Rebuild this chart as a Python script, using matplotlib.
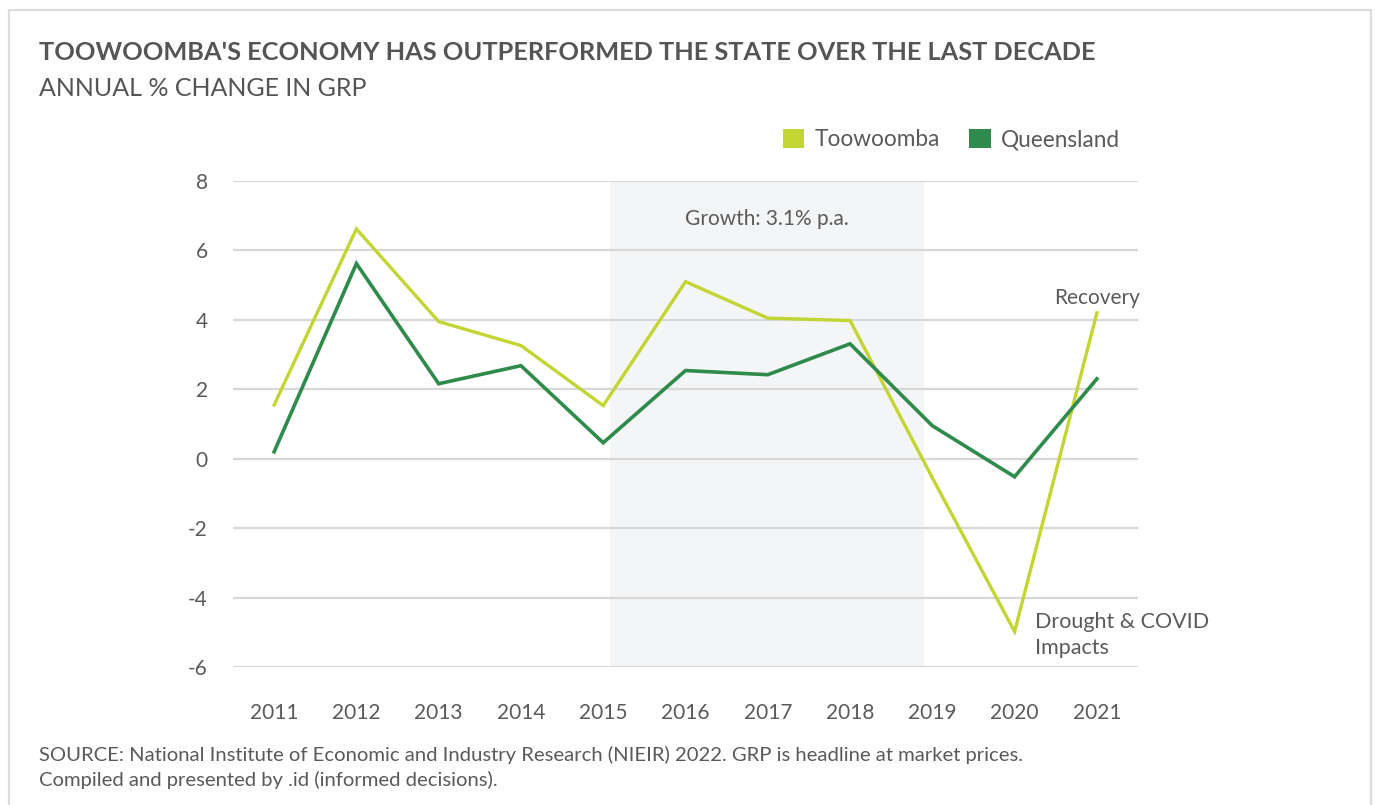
import matplotlib
matplotlib.use("Agg")
from matplotlib import pyplot as plt
from matplotlib.patches import Rectangle, Patch

plt.rcParams['font.family'] = ['Lato', 'DejaVu Sans']

years = [2011, 2012, 2013, 2014, 2015, 2016, 2017, 2018, 2019, 2020, 2021]
toowoomba = [1.55, 6.62, 3.95, 3.26, 1.53, 5.1, 4.05, 3.98, -0.55, -4.98, 4.2]
queensland = [0.2, 5.62, 2.16, 2.68, 0.46, 2.54, 2.42, 3.31, 0.95, -0.52, 2.3]
y_ticks = [-6, -4, -2, 0, 2, 4, 6, 8]
growth_span = (2015.08, 2018.9)

light_green = '#c3d532'
dark_green = '#2e8b4b'
text_grey = '#5a5a5a'
grid_grey = '#d8d8d8'

fig = plt.figure(figsize=(13.75, 8.05), dpi=100)

# card border
fig.patches.append(Rectangle((9 / 1375, -0.05), (1371 - 9) / 1375, 1.05 - 10 / 805,
                             transform=fig.transFigure, fill=False,
                             edgecolor='#dcdcdc', linewidth=1.6))

fig.text(39 / 1375, 1 - 52 / 805, "TOOWOOMBA'S ECONOMY HAS OUTPERFORMED THE STATE OVER THE LAST DECADE",
         fontsize=18.3, fontweight='bold', color='#555555', va='center', ha='left')
fig.text(39 / 1375, 1 - 88 / 805, "ANNUAL % CHANGE IN GRP",
         fontsize=18, color='#555555', va='center', ha='left')

ax = fig.add_axes([233 / 1375, 1 - 667 / 805, (1138 - 233) / 1375, (667 - 181) / 805])
ax.axvspan(growth_span[0], growth_span[1], color='#f4f5f6', zorder=0, lw=0)
for t in y_ticks:
    ax.axhline(t, color=grid_grey, lw=1.6, zorder=1)

ax.plot(years, toowoomba, color=light_green, lw=2.4, zorder=3, solid_joinstyle='miter')
ax.plot(years, queensland, color=dark_green, lw=2.6, zorder=4, solid_joinstyle='miter')

ax.set_xlim(2010.5, 2021.5)
ax.set_ylim(-6, 8)
ax.set_xticks(years)
ax.set_xticklabels([str(y) for y in years])
ax.set_yticks(y_ticks)
ax.set_yticklabels([str(t) for t in y_ticks])
ax.tick_params(length=0, labelsize=15, labelcolor=text_grey)
ax.tick_params(axis='x', pad=26)
ax.tick_params(axis='y', pad=18)
for s in ax.spines.values():
    s.set_visible(False)
ax.set_facecolor('none')

ax.text(sum(growth_span) / 2, 6.9, 'Growth: 3.1% p.a.', ha='center', va='center',
        fontsize=15, color=text_grey)
ax.text(2021.53, 4.64, 'Recovery', ha='right', va='center', fontsize=15, color=text_grey)
ax.text(2020.25, -5.08, 'Drought & COVID\nImpacts', ha='left', va='center',
        fontsize=15.5, color=text_grey, linespacing=1.4)

# square legend markers
handles = [Patch(facecolor=light_green, edgecolor='none'),
           Patch(facecolor=dark_green, edgecolor='none')]
ax.legend(handles, ['Toowoomba', 'Queensland'], loc='lower right', bbox_to_anchor=(0.99, 1.045),
          ncol=2, frameon=False, fontsize=16.3, handlelength=0.95, handleheight=0.95,
          handletextpad=0.45, columnspacing=1.3, labelcolor=text_grey, borderaxespad=0)

fig.text(39 / 1375, 1 - 755 / 805,
         'SOURCE: National Institute of Economic and Industry Research (NIEIR) 2022. GRP is headline at market prices.',
         fontsize=14.6, color=text_grey, va='center', ha='left')
fig.text(39 / 1375, 1 - 780 / 805, 'Compiled and presented by .id (informed decisions).',
         fontsize=14.6, color=text_grey, va='center', ha='left')

fig.savefig('out.png', dpi=100, facecolor='white')
